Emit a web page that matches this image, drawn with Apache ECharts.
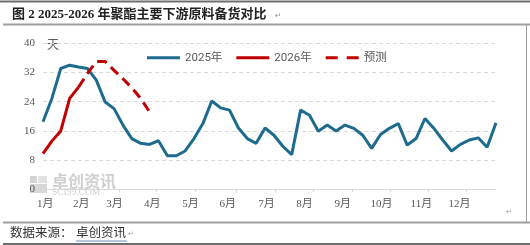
<!DOCTYPE html>
<html><head><meta charset="utf-8">
<script src="https://cdn.jsdelivr.net/npm/echarts@6/dist/echarts.min.js"></script>
<style>html,body{margin:0;padding:0;background:#fff}#c{width:530px;height:245px}</style>
</head><body><div id="c"></div>
<script>
// ---- data ----
const titleText = '图 2 2025-2026 年聚酯主要下游原料备货对比';
const sourceLabel = '数据来源：';
const sourceName = '卓创资讯';
const unitLabel = '天';
const seriesNames = ['2025年', '2026年', '预测'];
const weeks = ['W1','W2','W3','W4','W5','W6','W7','W8','W9','W10','W11','W12','W13','W14','W15','W16','W17','W18','W19','W20','W21','W22','W23','W24','W25','W26','W27','W28','W29','W30','W31','W32','W33','W34','W35','W36','W37','W38','W39','W40','W41','W42','W43','W44','W45','W46','W47','W48','W49','W50','W51','W52'];
const months = ['1月','2月','3月','4月','5月','6月','7月','8月','9月','10月','11月','12月'];
// month label positions, in week units on the x axis
const monthPos = [0.25, 4.3, 8.05, 12.3, 16.6, 20.8, 25.15, 29.45, 33.75, 38.1, 42.6, 46.9];
const tickPos = [4.8, 8.6, 12.8, 17.1, 21.8, 26.1, 30.4, 34.8, 39.1, 43.4, 47.6];
const yTicks = [0, 8, 16, 24, 32, 40];
const v2025 = [18.5, 24.9, 33.1, 34.0, 33.5, 33.1, 29.9, 23.9, 22.1, 17.6, 13.9, 12.6, 12.3, 13.3,
               9.2, 9.2, 10.5, 13.9, 18.0, 24.2, 22.3, 21.7, 16.8, 13.9, 12.6, 16.8, 14.8, 11.8,
               9.5, 21.7, 20.3, 15.9, 17.6, 16.0, 17.6, 16.7, 14.8, 11.2, 15.0, 16.7, 18.0, 12.1,
               13.9, 19.4, 16.7, 13.5, 10.5, 12.3, 13.5, 14.1, 11.5, 18.2];
const v2026 = [9.8, 13.2, 16.0, 24.9, 28.0];
const vForecast = [null, null, null, null, 28.0, 31.7, 35.0, 35.0, 32.6, 30.3, 27.8, 24.9, 21.2];

const BLUE = '#1e6b8f', RED = '#c00000', GRAY = '#595959';
const serif = "'Liberation Serif','Noto Sans CJK SC'";
const solidIcon = 'path://M0 0H33V3H0Z';
const dashIcon = 'path://M0 0H12V3H0ZM21 0H33V3H21Z';

const chart = echarts.init(document.getElementById('c'), null, {renderer: 'canvas'});
chart.setOption({
  animation: false,
  backgroundColor: '#fff',
  grid: {left: 43, right: 34, top: 43.3, bottom: 55.7},
  legend: {
    data: [
      {name: seriesNames[0], icon: solidIcon},
      {name: seriesNames[1], icon: solidIcon},
      {name: seriesNames[2], icon: dashIcon}
    ],
    left: 142, top: 47, itemWidth: 33, itemHeight: 3, itemGap: 14,
    textStyle: {fontSize: 11.5, color: GRAY, fontFamily: "Roboto,'Noto Sans CJK SC'"}
  },
  xAxis: [{
    type: 'category', data: weeks, boundaryGap: false,
    axisLine: {show: true, lineStyle: {color: '#d9d9d9', width: 1}},
    axisTick: {show: false}, axisLabel: {show: false}, splitLine: {show: false}
  }, {
    type: 'value', min: 0, max: 51, position: 'bottom',
    axisLine: {show: false}, splitLine: {show: false},
    axisTick: {show: true, customValues: tickPos, length: 3, lineStyle: {color: '#d9d9d9'}},
    axisLabel: {
      customValues: monthPos, margin: 9, fontSize: 11, color: GRAY, fontFamily: serif,
      formatter: v => months[monthPos.indexOf(v)]
    }
  }],
  yAxis: {
    type: 'value', min: yTicks[0], max: yTicks[yTicks.length - 1], interval: 8,
    axisLine: {show: false}, axisTick: {show: false},
    axisLabel: {fontSize: 11, color: GRAY, margin: 8, fontFamily: serif},
    splitLine: {show: true, lineStyle: {color: '#d9d9d9', type: [4, 3], width: 1}}
  },
  series: [
    {name: seriesNames[0], type: 'line', data: v2025, symbol: 'none', z: 3,
     lineStyle: {color: BLUE, width: 3}, itemStyle: {color: BLUE}},
    {name: seriesNames[1], type: 'line', data: v2026, symbol: 'none', z: 4,
     lineStyle: {color: RED, width: 3}, itemStyle: {color: RED}},
    {name: seriesNames[2], type: 'line', data: vForecast, symbol: 'none', z: 4,
     lineStyle: {color: RED, width: 3, type: [10, 6]}, itemStyle: {color: RED}}
  ],
  graphic: [
    {type: 'line', shape: {x1: 0, y1: 1.5, x2: 530, y2: 1.5}, style: {stroke: '#6e6e6e', lineWidth: 2}, silent: true},
    {type: 'line', shape: {x1: 3, y1: 24.5, x2: 530, y2: 24.5}, style: {stroke: '#a0a0a0', lineWidth: 2}, silent: true},
    {type: 'line', shape: {x1: 526.5, y1: 25, x2: 526.5, y2: 222}, style: {stroke: '#a0a0a0', lineWidth: 1}, silent: true},
    {type: 'line', shape: {x1: 3, y1: 222.5, x2: 530, y2: 222.5}, style: {stroke: '#a0a0a0', lineWidth: 2}, silent: true},
    {type: 'line', shape: {x1: 3, y1: 244, x2: 530, y2: 244}, style: {stroke: '#6e6e6e', lineWidth: 2}, silent: true},
    {type: 'text', left: 12, top: 8, style: {text: titleText, fontSize: 13, fontWeight: 'bold', fill: '#222', fontFamily: serif}},
    {type: 'text', left: 275, top: 12, style: {text: '↵', fontSize: 8, fill: '#999', fontFamily: 'DejaVu Sans'}},
    {type: 'text', left: 47, top: 38, style: {text: unitLabel, fontSize: 12, fill: GRAY, fontFamily: "'Noto Sans CJK SC'"}},
    {type: 'text', left: 506, top: 209, style: {text: '↵', fontSize: 7, fill: '#999', fontFamily: 'DejaVu Sans'}},
    {type: 'text', left: 10, top: 226, style: {text: sourceLabel, fontSize: 12.5, fill: '#333', fontFamily: "'Noto Sans CJK SC'"}},
    {type: 'text', left: 76, top: 226, style: {text: sourceName, fontSize: 12.5, fill: '#333', fontFamily: "'Noto Sans CJK SC'"}},
    {type: 'line', shape: {x1: 76, y1: 241, x2: 127, y2: 241}, style: {stroke: '#6f8fc0', lineWidth: 1}, silent: true},
    {type: 'text', left: 128, top: 231, style: {text: '↵', fontSize: 7, fill: '#999', fontFamily: 'DejaVu Sans'}},
    // watermark
    {type: 'rect', shape: {x: 30, y: 176, width: 7, height: 7}, style: {fill: '#d4d4d4'}, silent: true, z: -1},
    {type: 'rect', shape: {x: 38, y: 176, width: 9, height: 7}, style: {fill: '#e2e2e2'}, silent: true, z: -1},
    {type: 'rect', shape: {x: 30, y: 184, width: 17, height: 9}, style: {fill: '#d8d8d8'}, silent: true, z: -1},
    {type: 'text', left: 52, top: 173, z: -1, style: {text: '卓创资讯', fontSize: 16, fontWeight: 'bold', fill: '#d0d0d0', fontFamily: "'Noto Sans CJK SC'"}},
    {type: 'text', left: 52, top: 187, z: -1, style: {text: 'SCI99.COM', fontSize: 9.5, fill: '#d0d0d0', fontFamily: "'Liberation Serif'"}}
  ]
});
</script></body></html>
